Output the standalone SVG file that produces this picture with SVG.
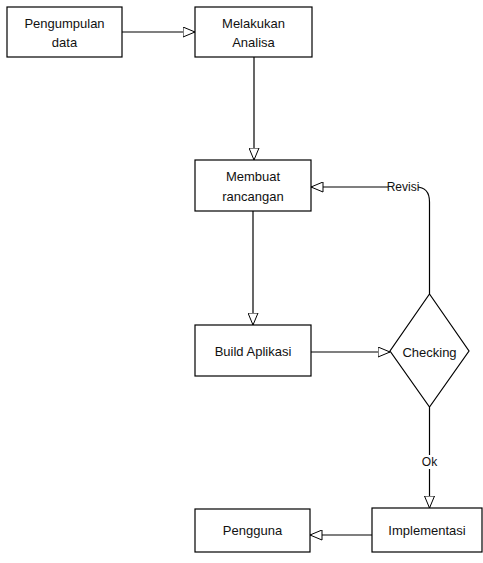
<svg xmlns="http://www.w3.org/2000/svg" width="483" height="563" viewBox="0 0 483 563">
<defs>
<marker id="arr" viewBox="0 0 13 11" refX="12.5" refY="5.5" markerWidth="13" markerHeight="11" markerUnits="userSpaceOnUse" orient="auto">
<path d="M0.5,0.5 L12.5,5.5 L0.5,10.5 Z" fill="#fff" stroke="#000" stroke-width="1"/>
</marker>
<style>
.box{fill:#fff;stroke:#000;stroke-width:1.2}
.lbl{font-family:"Liberation Sans",Arial,sans-serif;font-size:13px;fill:#111;text-anchor:middle}
.sm{font-size:12px}
.con{fill:none;stroke:#000;stroke-width:1.2}
</style>
</defs>
<rect width="483" height="563" fill="#fff"/>
<g id="connectors">
<path class="con" d="M122,32 H195" marker-end="url(#arr)"/>
<path class="con" d="M254,57 V160" marker-end="url(#arr)"/>
<path class="con" d="M253,211 V325" marker-end="url(#arr)"/>
<path class="con" d="M311,352 H390" marker-end="url(#arr)"/>
<path class="con" d="M429.5,294 V202 Q429.5,187 416,187 H311" marker-end="url(#arr)"/>
<path class="con" d="M429.5,407 V508" marker-end="url(#arr)"/>
<path class="con" d="M372,535 H310" marker-end="url(#arr)"/>
<rect x="388" y="180" width="30" height="14" fill="#fff"/>
<text class="lbl sm" x="403" y="191">Revisi</text>
<rect x="421" y="455" width="17" height="14" fill="#fff"/>
<text class="lbl sm" x="429.5" y="466">Ok</text>
</g>
<g id="pengumpulan">
<rect class="box" x="7" y="7" width="115" height="50"/>
<text class="lbl" x="64.5" y="28">Pengumpulan</text>
<text class="lbl" x="64.5" y="47">data</text>
</g>
<g id="melakukan">
<rect class="box" x="195" y="7" width="117" height="50"/>
<text class="lbl" x="253.5" y="28">Melakukan</text>
<text class="lbl" x="253.5" y="47">Analisa</text>
</g>
<g id="membuat">
<rect class="box" x="195" y="160" width="116" height="51"/>
<text class="lbl" x="253" y="181">Membuat</text>
<text class="lbl" x="253" y="201">rancangan</text>
</g>
<g id="build">
<rect class="box" x="195" y="325" width="116" height="51"/>
<text class="lbl" x="253" y="356">Build Aplikasi</text>
</g>
<g id="checking">
<path class="box" d="M429.5,294 L469,351 L429.5,407 L390,351 Z"/>
<text class="lbl" x="429.5" y="357">Checking</text>
</g>
<g id="implementasi">
<rect class="box" x="372" y="508" width="110" height="44"/>
<text class="lbl" x="427" y="535">Implementasi</text>
</g>
<g id="pengguna">
<rect class="box" x="195" y="509" width="115" height="43"/>
<text class="lbl" x="252.5" y="535">Pengguna</text>
</g>
</svg>
